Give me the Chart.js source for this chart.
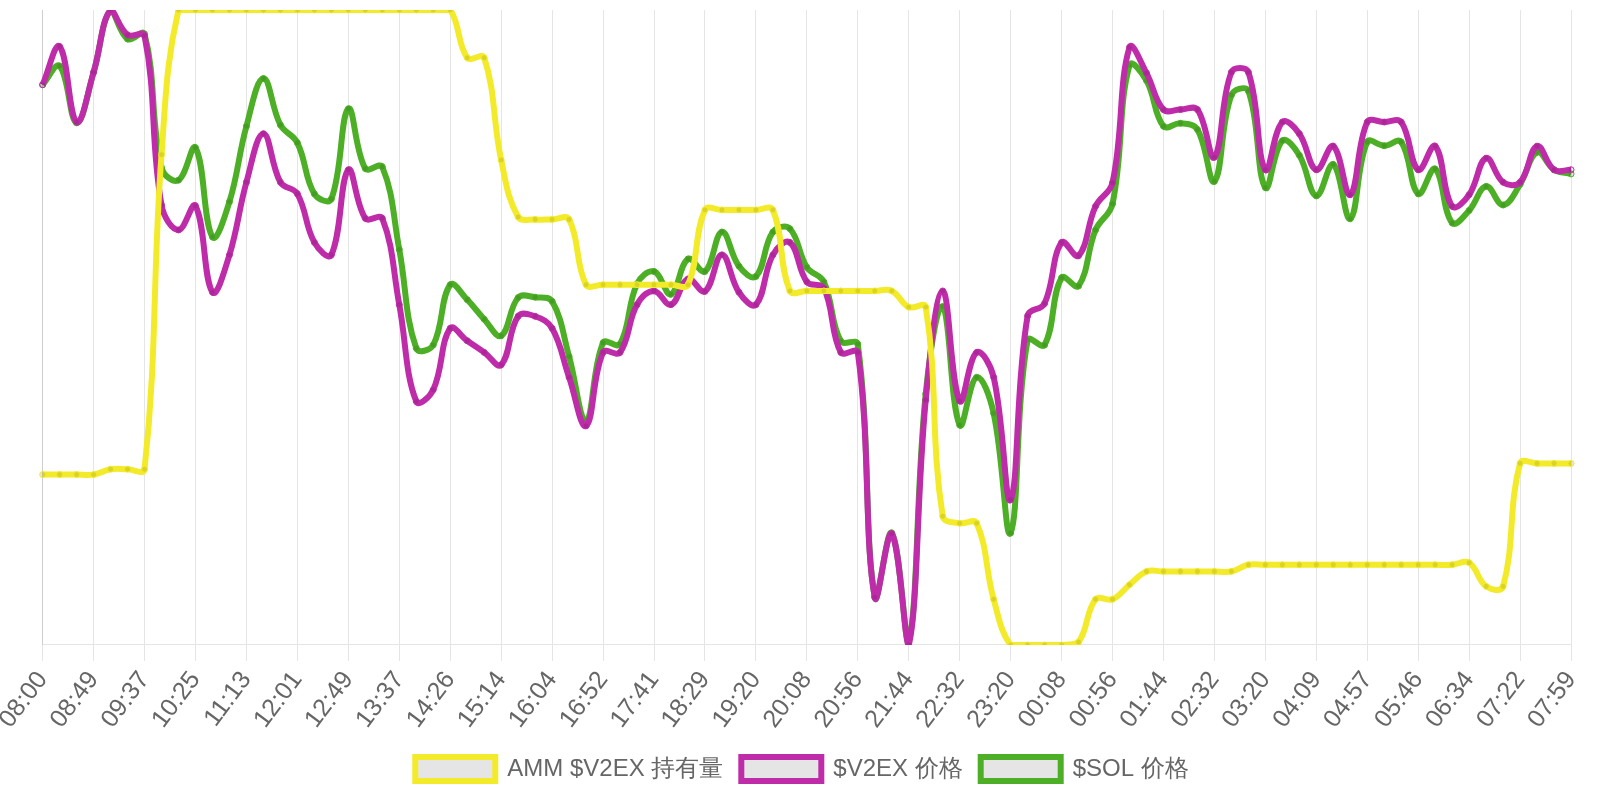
<!DOCTYPE html>
<html>
<head>
<meta charset="utf-8">
<title>AMM $V2EX</title>
<script src="https://cdn.jsdelivr.net/npm/chart.js@4.4.1/dist/chart.umd.min.js"></script>
<style>
  body { margin: 0; background: #fff; }
  .chart-box { width: 1600px; height: 800px; }
</style>
</head>
<body>
<div class="chart-box"><canvas id="lineChart"></canvas></div>
<script>
// time labels, one every ~16 min (only every 3rd one is shown)
const timeLabels = [
  "08:00", "08:16", "08:33",
  "08:49", "09:05", "09:21",
  "09:37", "09:53", "10:09",
  "10:25", "10:41", "10:57",
  "11:13", "11:29", "11:45",
  "12:01", "12:17", "12:33",
  "12:49", "13:05", "13:21",
  "13:37", "13:53", "14:10",
  "14:26", "14:42", "14:58",
  "15:14", "15:31", "15:47",
  "16:04", "16:20", "16:36",
  "16:52", "17:08", "17:25",
  "17:41", "17:57", "18:13",
  "18:29", "18:46", "19:03",
  "19:20", "19:36", "19:52",
  "20:08", "20:24", "20:40",
  "20:56", "21:12", "21:28",
  "21:44", "22:00", "22:16",
  "22:32", "22:48", "23:04",
  "23:20", "23:36", "23:52",
  "00:08", "00:24", "00:40",
  "00:56", "01:12", "01:28",
  "01:44", "02:00", "02:16",
  "02:32", "02:48", "03:04",
  "03:20", "03:36", "03:53",
  "04:09", "04:25", "04:41",
  "04:57", "05:13", "05:30",
  "05:46", "06:02", "06:18",
  "06:34", "06:50", "07:06",
  "07:22", "07:34", "07:47",
  "07:59",
];

// AMM $V2EX holdings (millions)
const ammHoldings = [
  22.10, 22.10, 22.10, 22.10, 22.23, 22.23, 22.23, 29.80, 33.28, 33.28,
  33.28, 33.28, 33.28, 33.28, 33.28, 33.28, 33.28, 33.28, 33.28, 33.28,
  33.28, 33.28, 33.28, 33.28, 33.28, 32.13, 32.13, 29.67, 28.30, 28.24,
  28.24, 28.24, 26.67, 26.67, 26.67, 26.67, 26.67, 26.67, 26.67, 28.47,
  28.47, 28.47, 28.47, 28.47, 26.52, 26.52, 26.52, 26.52, 26.52, 26.52,
  26.52, 26.13, 26.13, 21.10, 20.93, 20.93, 19.10, 18.00, 18.00, 18.00,
  18.00, 18.07, 19.10, 19.10, 19.45, 19.77, 19.77, 19.77, 19.77, 19.77,
  19.77, 19.93, 19.93, 19.93, 19.93, 19.93, 19.93, 19.93, 19.93, 19.93,
  19.93, 19.93, 19.93, 19.93, 19.98, 19.41, 19.41, 22.37, 22.37, 22.37,
  22.37,
];

// $V2EX price, relative to 08:00 (=100)
const v2exPrice = [
  100.00, 102.76, 97.30, 100.90, 105.40, 103.60, 103.54, 91.30, 89.50, 91.24,
  85.00, 87.70, 92.95, 96.46, 92.95, 92.11, 88.60, 87.70, 93.85, 90.34,
  90.34, 84.10, 77.11, 77.95, 82.39, 81.49, 80.65, 79.75, 83.26, 83.26,
  82.39, 78.85, 75.34, 80.65, 80.65, 84.10, 85.09, 84.10, 85.96, 85.06,
  87.70, 85.00, 84.10, 87.70, 88.60, 85.75, 85.30, 80.65, 80.65, 62.95,
  67.54, 59.50, 77.20, 85.09, 77.14, 80.65, 78.85, 70.00, 83.29, 84.19,
  88.60, 87.64, 91.21, 92.92, 102.70, 100.84, 98.20, 98.20, 98.20, 94.75,
  100.90, 100.90, 93.85, 97.30, 96.46, 93.85, 95.56, 92.05, 97.30, 97.30,
  97.30, 93.85, 95.56, 91.21, 92.05, 94.69, 92.95, 92.95, 95.56, 93.85,
  93.85,
];

// $SOL price, relative to 08:00 (=100)
const solPrice = [
  100.00, 101.35, 97.24, 100.90, 105.34, 103.30, 103.66, 94.00, 93.10, 95.44,
  88.99, 91.54, 97.00, 100.45, 97.09, 95.80, 92.11, 91.75, 98.26, 93.94,
  94.06, 88.09, 80.95, 81.19, 85.54, 84.46, 83.05, 81.85, 84.61, 84.64,
  84.34, 80.35, 75.70, 81.34, 81.25, 85.60, 86.50, 84.85, 87.40, 86.50,
  89.35, 86.89, 86.14, 89.35, 89.59, 86.80, 85.75, 81.46, 81.25, 62.95,
  67.60, 59.65, 77.65, 83.95, 75.40, 78.85, 76.24, 67.60, 81.55, 81.19,
  86.05, 85.45, 89.50, 91.39, 101.41, 100.30, 97.00, 97.21, 96.76, 93.01,
  99.25, 99.55, 92.56, 95.95, 94.90, 91.96, 94.24, 90.31, 95.86, 95.59,
  95.86, 92.11, 93.91, 90.01, 90.91, 92.65, 91.30, 92.80, 95.11, 93.85,
  93.55,
];

const seriesNames = ["AMM $V2EX 持有量", "$V2EX 价格", "$SOL 价格"];
const seriesColors = ["#f3eb29", "#bf2ca9", "#4caf26"];

function lineDataset(i, data, axis) {
  return {
    label: seriesNames[i],
    data: data,
    borderColor: seriesColors[i],
    borderWidth: 6,
    tension: 0.4,
    pointRadius: 3,
    pointBorderWidth: 1,
    pointBackgroundColor: "rgba(0, 0, 0, 0.1)",
    yAxisID: axis,
  };
}

document.addEventListener("DOMContentLoaded", function () {
  const priceMin = Math.min(...v2exPrice, ...solPrice);
  const priceMax = Math.max(...v2exPrice, ...solPrice);

  const ctx = document.getElementById("lineChart").getContext("2d");
  new Chart(ctx, {
    type: "line",
    data: {
      labels: timeLabels,
      datasets: [
        lineDataset(0, ammHoldings, "y"),
        lineDataset(1, v2exPrice, "y1"),
        lineDataset(2, solPrice, "y1"),
      ],
    },
    options: {
      responsive: true,
      maintainAspectRatio: false,
      animation: false,
      layout: { padding: { top: 10, bottom: 9, left: 4 } },
      plugins: {
        legend: {
          position: "bottom",
          labels: { boxWidth: 80, padding: 18, font: { size: 24 } },
        },
        tooltip: { enabled: false },
      },
      scales: {
        x: {
          grid: { tickLength: 16 },
          ticks: {
            autoSkip: false,
            padding: 5,
            minRotation: 53,
            maxRotation: 53,
            font: { size: 25 },
            callback: function (value, index) {
              return index % 3 === 0 ? this.getLabelForValue(value) : null;
            },
          },
        },
        y: {
          position: "left",
          min: Math.min(...ammHoldings),
          max: Math.max(...ammHoldings),
          ticks: { display: false },
          grid: { display: false },
        },
        y1: {
          display: false,
          min: priceMin,
          max: priceMax,
        },
      },
    },
  });
});
</script>
</body>
</html>
